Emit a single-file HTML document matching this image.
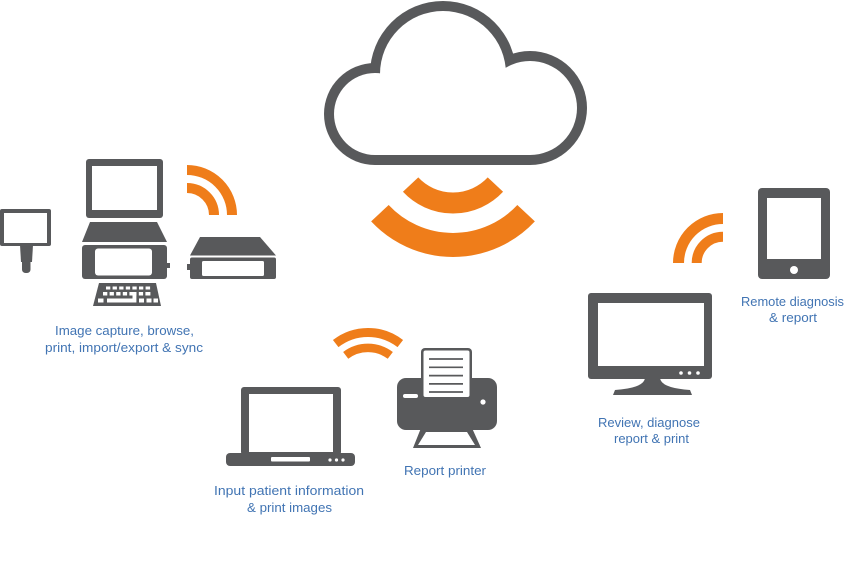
<!DOCTYPE html>
<html><head><meta charset="utf-8"><style>
html,body{margin:0;padding:0;background:#fff;}
svg{display:block;}
text{font-family:"Liberation Sans",Arial,sans-serif;font-size:13px;fill:#4174b3;}
</style></head><body>
<svg width="853" height="588" viewBox="0 0 853 588" xmlns="http://www.w3.org/2000/svg">
<!-- Cloud -->
<g fill="#58595b">
<circle cx="375" cy="114" r="51"/><circle cx="530" cy="108" r="57"/><circle cx="443" cy="74" r="73"/>
<rect x="375" y="100" width="155" height="65"/>
</g>
<g fill="#fff">
<circle cx="375" cy="114" r="41"/><circle cx="530" cy="108" r="47"/><circle cx="443" cy="74" r="63"/>
<rect x="375" y="100" width="155" height="55"/>
</g>
<!-- wifi arcs -->
<g fill="none" stroke="#ef7d1a">
<path d="M410.6,184.6 A58,58 0 0 0 495.4,184.6" stroke-width="21"/>
<path d="M379.9,213.2 A100,100 0 0 0 526.1,213.2" stroke-width="24"/>
<path d="M187,170 A45,45 0 0 1 232,215" stroke-width="10"/>
<path d="M187,188 A27,27 0 0 1 214,215" stroke-width="10"/>
<path d="M678.5,263 A44.5,44.5 0 0 1 723,218.5" stroke-width="11"/>
<path d="M696.7,263 A26.3,26.3 0 0 1 723,236.7" stroke-width="10"/>
<path d="M335.7,343.6 A52.5,52.5 0 0 1 400.3,343.6" stroke-width="9"/>
<path d="M345.7,355.4 A37,37 0 0 1 390.3,355.4" stroke-width="8.5"/>
</g>
<!-- small left device -->
<g fill="#58595b">
<rect x="0" y="209" width="51" height="37" rx="2"/>
<polygon points="20,245 33,245 32,262 21,262"/>
<rect x="22" y="258" width="8.5" height="15" rx="3.5"/>
</g>
<rect x="4" y="213" width="43" height="30" fill="#fff"/>
<!-- desktop computer -->
<g fill="#58595b">
<rect x="86" y="159" width="77" height="59" rx="3"/>
<polygon points="90,222 157,222 167,242 82,242"/>
<rect x="82" y="245" width="85" height="34" rx="3"/>
<rect x="166" y="263" width="4" height="5"/>
<polygon points="99,283 156,283 161,306 93,306"/>
</g>
<rect x="92" y="166" width="65" height="44" fill="#fff"/>
<rect x="95" y="248.5" width="57" height="27" rx="3" fill="#fff"/>
<g fill="#fff">
<rect x="106" y="286.5" width="4.3" height="3"/><rect x="112.6" y="286.5" width="4.3" height="3"/><rect x="119.2" y="286.5" width="4.3" height="3"/><rect x="125.8" y="286.5" width="4.3" height="3"/><rect x="132.4" y="286.5" width="4.3" height="3"/><rect x="139" y="286.5" width="4.3" height="3"/><rect x="145.6" y="286.5" width="4.5" height="3"/>
<rect x="103" y="292" width="4.3" height="3.5"/><rect x="109.6" y="292" width="4.3" height="3.5"/><rect x="116.2" y="292" width="4.3" height="3.5"/><rect x="122.8" y="292" width="4.3" height="3.5"/><rect x="129.4" y="292" width="7" height="3.5"/><rect x="138.8" y="292" width="4.3" height="3.5"/><rect x="145.4" y="292" width="5" height="3.5"/>
<rect x="132.5" y="292" width="3.9" height="10.5"/>
<rect x="98" y="298.5" width="5.5" height="4"/><rect x="107" y="298.5" width="26" height="4"/><rect x="139" y="298.5" width="5" height="4"/><rect x="146.5" y="298.5" width="5" height="4"/><rect x="153.5" y="298.5" width="4.5" height="4"/>
</g>
<!-- right box device -->
<g fill="#58595b">
<polygon points="200,237 260,237 276,255.5 190,255.5"/>
<rect x="190" y="257.5" width="86" height="21.5" rx="2"/>
<rect x="187" y="264" width="4" height="6"/>
</g>
<rect x="202" y="261" width="62" height="15" rx="1.5" fill="#fff"/>
<!-- laptop -->
<g fill="#58595b">
<rect x="241" y="387" width="100" height="68" rx="3"/>
<rect x="226" y="453" width="129" height="13" rx="4"/>
</g>
<rect x="249" y="394" width="84" height="58" fill="#fff"/>
<rect x="271" y="457" width="39" height="4.5" rx="1" fill="#fff"/>
<g fill="#fff"><circle cx="330" cy="460" r="1.6"/><circle cx="336.5" cy="460" r="1.6"/><circle cx="343" cy="460" r="1.6"/></g>
<!-- printer -->
<g fill="#58595b">
<rect x="397" y="378" width="100" height="52" rx="9"/>
<rect x="421" y="348" width="51" height="51" rx="4"/>
<polygon points="421,428 472,428 481,448 413,448"/>
</g>
<rect x="423.5" y="350.5" width="46" height="46.5" rx="2" fill="#fff"/>
<g stroke="#58595b" stroke-width="1.7">
<line x1="429" y1="359" x2="463" y2="359"/><line x1="429" y1="367.3" x2="463" y2="367.3"/><line x1="429" y1="375.6" x2="463" y2="375.6"/><line x1="429" y1="383.9" x2="463" y2="383.9"/><line x1="429" y1="392" x2="463" y2="392"/>
</g>
<rect x="403" y="394" width="15" height="4" rx="2" fill="#fff"/>
<circle cx="483" cy="402" r="2.6" fill="#fff"/>
<polygon points="426,432 467,432 475,445 418,445" fill="#fff"/>
<!-- monitor -->
<g fill="#58595b">
<rect x="588" y="293" width="124" height="86" rx="3"/>
<path d="M645,378 L660,378 Q661,388 690,390 L692,395 L613,395 L615,390 Q644,388 645,378 Z"/>
</g>
<rect x="598" y="303" width="106" height="63" fill="#fff"/>
<g fill="#fff"><circle cx="681" cy="373" r="1.8"/><circle cx="689.5" cy="373" r="1.8"/><circle cx="698" cy="373" r="1.8"/></g>
<!-- tablet -->
<rect x="758" y="188" width="72" height="91" rx="4" fill="#58595b"/>
<rect x="767" y="198" width="54" height="61" fill="#fff"/>
<circle cx="794" cy="270" r="4" fill="#fff"/>
<!-- labels -->
<text x="55" y="335" textLength="139" lengthAdjust="spacingAndGlyphs">Image capture, browse,</text>
<text x="45" y="352" textLength="158" lengthAdjust="spacingAndGlyphs">print, import/export &amp; sync</text>
<text x="214" y="495" textLength="150" lengthAdjust="spacingAndGlyphs">Input patient information</text>
<text x="247" y="512" textLength="85" lengthAdjust="spacingAndGlyphs">&amp; print images</text>
<text x="404" y="475" textLength="82" lengthAdjust="spacingAndGlyphs">Report printer</text>
<text x="598" y="427" textLength="102" lengthAdjust="spacingAndGlyphs">Review, diagnose</text>
<text x="614" y="443" textLength="75" lengthAdjust="spacingAndGlyphs">report &amp; print</text>
<text x="741" y="306" textLength="103" lengthAdjust="spacingAndGlyphs">Remote diagnosis</text>
<text x="769" y="322" textLength="48" lengthAdjust="spacingAndGlyphs">&amp; report</text>
</svg>
</body></html>
